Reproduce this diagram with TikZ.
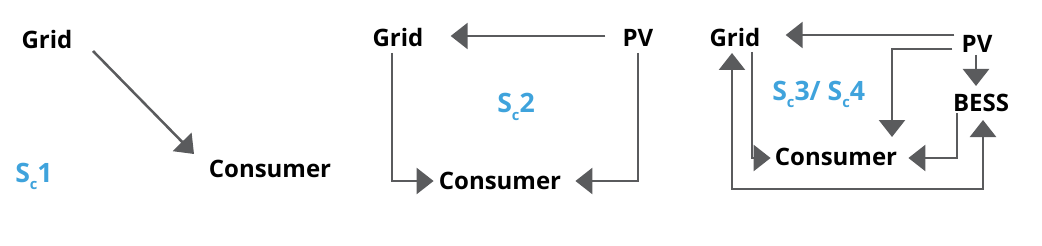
\documentclass[tikz,border=0pt]{standalone}
\usepackage{fontspec}
\setmainfont{Open Sans}
\usetikzlibrary{positioning}
\usetikzlibrary{calc}
\usetikzlibrary{arrows.meta}
\definecolor{scblue}{RGB}{63,163,220}
\definecolor{flowgray}{RGB}{90,91,93}
\newcommand{\scname}[1]{S\raisebox{-5.5pt}{\fontsize{11}{11}\selectfont c}#1}

\begin{document}
\begin{tikzpicture}[x=0.75pt, y=-0.75pt,
    >={Triangle[length=12.75pt,width=19.5pt]},
    lbl/.style={font=\fontsize{18}{20}\selectfont\bfseries, inner sep=0pt},
    scn/.style={font=\fontsize{20}{22}\selectfont\bfseries, text=scblue, inner sep=0pt, anchor=base west},
    flow/.style={draw=flowgray, line width=1.9pt, ->}]
    \useasboundingbox (0,0) rectangle (1042,246);

    % Scenario 1
    \node[lbl] (grid1) at (47,40) {Grid};
    \node[lbl] (cons1) at (270,169) {Consumer};
    \node[scn] (sc1) at (15,182) {\scname{1}};
    \draw[flow] ($(grid1)+(46,11)$) -- ($(cons1)+(-76,-15)$);

    % Scenario 2
    \node[lbl] (grid2) at (398,38) {Grid};
    \node[lbl] (pv2) at (638,38) {PV};
    \node[lbl] (cons2) at (500,181) {Consumer};
    \node[scn] (sc2) at (497,113) {\scname{2}};
    \draw[flow] ($(pv2.west)+(-17,-2)$) -- ($(grid2.east)+(27,-2)$);
    \draw[flow] ($(grid2)+(-6,15)$) |- ($(cons2.west)+(-5,0)$);
    \draw[flow] ($(pv2)+(0,15)$) |- ($(cons2.east)+(14,0)$);

    % Scenario 3/4
    \node[lbl] (grid3) at (735,38) {Grid};
    \node[lbl] (pv3) at (977,44) {PV};
    \node[lbl] (bess3) at (981,103) {BESS};
    \node[lbl] (cons3) at (836,157) {Consumer};
    \node[scn] (sc3) at (772,100) {\scname{3}/ \scname{4}};
    \draw[flow] ($(pv3.west)+(-7,-9)$) -- ($(grid3.east)+(25,-3)$);
    \draw[flow] ($(pv3.west)+(-9,5)$) -| ($(cons3)+(56,-20)$);
    \draw[flow] ($(pv3)+(-1,11)$) -- ($(bess3)+(-5,-17)$);
    \draw[flow] ($(grid3)+(17,14)$) |- ($(cons3.west)+(-4,1)$);
    \draw[flow] ($(bess3)+(-24,10)$) |- ($(cons3.east)+(11,1)$);
    \draw[flow, <->] ($(grid3)+(-3,15)$) -- ++(0,136) -| ($(bess3)+(2,17)$);
\end{tikzpicture}
\end{document}
